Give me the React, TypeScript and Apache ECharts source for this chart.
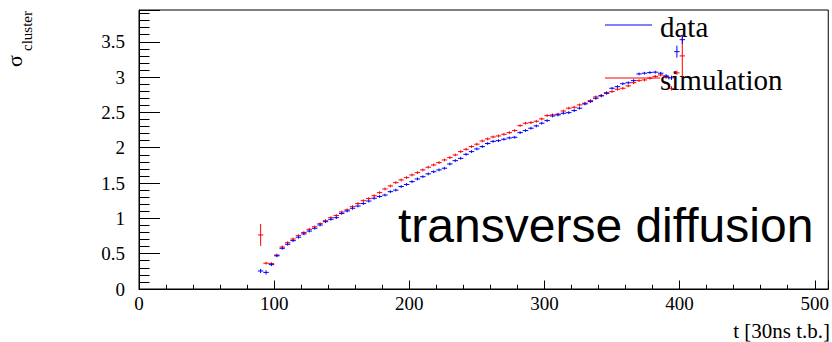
import React, { useEffect, useRef } from "react";
import * as echarts from "echarts";

// time-bin centres [30ns t.b.]
const tBins = [
  90, 94, 98, 102, 106, 110, 114, 118, 122, 126, 130, 134, 138, 142, 146, 150,
  154, 158, 162, 166, 170, 174, 178, 182, 186, 190, 194, 198, 202, 206, 210, 214,
  218, 222, 226, 230, 234, 238, 242, 246, 250, 254, 258, 262, 266, 270, 274, 278,
  282, 286, 290, 294, 298, 302, 306, 310, 314, 318, 322, 326, 330, 334, 338, 342,
  346, 350, 354, 358, 362, 366, 370, 374, 378, 382, 386, 390, 394, 398, 402,
];

// "data" (blue)
const dataSigma = [
  0.255, 0.235, 0.345, 0.47, 0.576, 0.633, 0.685, 0.733, 0.78, 0.82, 0.86, 0.906, 0.953, 0.987, 1.01, 1.07,
  1.105, 1.143, 1.175, 1.21, 1.245, 1.285, 1.31, 1.33, 1.378, 1.4, 1.45, 1.48, 1.52, 1.558, 1.59, 1.63,
  1.66, 1.686, 1.71, 1.77, 1.817, 1.85, 1.907, 1.945, 1.983, 2.016, 2.06, 2.09, 2.1, 2.12, 2.139, 2.148,
  2.214, 2.243, 2.276, 2.309, 2.347, 2.384, 2.45, 2.465, 2.488, 2.497, 2.526, 2.56, 2.62, 2.653, 2.7, 2.734,
  2.77, 2.842, 2.865, 2.906, 2.92, 2.95, 3.045, 3.055, 3.064, 3.07, 3.055, 3.017, 2.99, 3.36, 3.53,
];
const dataErr = [
  0.03, 0.03, 0.02, 0.02, 0.02, 0.02, 0.02, 0.02, 0.02, 0.02, 0.02, 0.02, 0.02, 0.02, 0.02, 0.02,
  0.02, 0.02, 0.02, 0.02, 0.02, 0.02, 0.02, 0.02, 0.02, 0.02, 0.02, 0.02, 0.02, 0.02, 0.02, 0.02,
  0.02, 0.02, 0.02, 0.02, 0.02, 0.02, 0.02, 0.02, 0.02, 0.02, 0.02, 0.02, 0.02, 0.02, 0.02, 0.02,
  0.02, 0.02, 0.02, 0.02, 0.02, 0.02, 0.02, 0.02, 0.02, 0.02, 0.02, 0.02, 0.02, 0.02, 0.02, 0.02,
  0.02, 0.02, 0.02, 0.02, 0.02, 0.02, 0.02, 0.02, 0.02, 0.02, 0.02, 0.025, 0.03, 0.085, 0.06,
];

// "simulation" (red)
const simSigma = [
  0.765, 0.365, 0.36, 0.48, 0.595, 0.656, 0.708, 0.755, 0.8, 0.845, 0.88, 0.925, 0.967, 1.01, 1.04, 1.09,
  1.12, 1.166, 1.21, 1.25, 1.28, 1.32, 1.364, 1.416, 1.459, 1.506, 1.544, 1.577, 1.615, 1.648, 1.686, 1.724,
  1.756, 1.789, 1.827, 1.86, 1.898, 1.945, 1.978, 2.016, 2.05, 2.096, 2.125, 2.153, 2.167, 2.19, 2.214, 2.243,
  2.313, 2.347, 2.356, 2.375, 2.408, 2.455, 2.465, 2.475, 2.52, 2.56, 2.573, 2.606, 2.63, 2.667, 2.72, 2.74,
  2.78, 2.795, 2.828, 2.842, 2.875, 2.92, 2.95, 2.96, 2.985, 3.01, 3.03, 3.0, 2.84, 3.06, 3.3,
];
const simErr = [
  0.155, 0.02, 0.02, 0.02, 0.02, 0.02, 0.02, 0.02, 0.02, 0.02, 0.02, 0.02, 0.02, 0.02, 0.02, 0.02,
  0.02, 0.02, 0.02, 0.02, 0.02, 0.02, 0.02, 0.02, 0.02, 0.02, 0.02, 0.02, 0.02, 0.02, 0.02, 0.02,
  0.02, 0.02, 0.02, 0.02, 0.02, 0.02, 0.02, 0.02, 0.02, 0.02, 0.02, 0.02, 0.02, 0.02, 0.02, 0.02,
  0.02, 0.02, 0.02, 0.02, 0.02, 0.02, 0.02, 0.02, 0.02, 0.02, 0.02, 0.02, 0.02, 0.02, 0.02, 0.02,
  0.02, 0.02, 0.02, 0.02, 0.02, 0.02, 0.02, 0.02, 0.02, 0.02, 0.02, 0.025, 0.03, 0.03, 0.3,
];

const BIN_HALF = 2;
const SERIF = "'Liberation Serif', 'Times New Roman', serif";
const SANS = "'Liberation Sans', Arial, sans-serif";

const makeRender = (color: string) => (params: any, api: any) => {
  const t = api.value(0);
  const v = api.value(1);
  const e = api.value(2);
  const l = api.coord([t - BIN_HALF, v]);
  const r = api.coord([t + BIN_HALF, v]);
  const top = api.coord([t, v + e]);
  const bot = api.coord([t, v - e]);
  return {
    type: "group",
    children: [
      { type: "line", shape: { x1: l[0], y1: l[1], x2: r[0], y2: r[1] }, style: { stroke: color, lineWidth: 1 } },
      { type: "line", shape: { x1: top[0], y1: top[1], x2: bot[0], y2: bot[1] }, style: { stroke: color, lineWidth: 1 } },
    ],
  };
};

export default function App() {
  const ref = useRef<HTMLDivElement>(null);
  useEffect(() => {
    document.body.style.margin = "0";
    if (!ref.current) return;
    const chart = echarts.init(ref.current, undefined, { renderer: "svg" });
    const simData = tBins.map((t, i) => [t, simSigma[i], simErr[i]]);
    const dataData = tBins.map((t, i) => [t, dataSigma[i], dataErr[i]]);
    chart.setOption({
      animation: false,
      backgroundColor: "#fff",
      grid: { left: 139, right: 2, top: 10, bottom: 53, show: true, borderColor: "#000", borderWidth: 1, backgroundColor: "transparent" },
      xAxis: {
        type: "value",
        min: 0,
        max: 510,
        interval: 100,
        axisLine: { show: true, lineStyle: { color: "#000", width: 1 } },
        axisTick: { show: true, inside: true, length: 8.5, lineStyle: { color: "#000" } },
        minorTick: { show: true, splitNumber: 5, length: 4.2, lineStyle: { color: "#000" } },
        splitLine: { show: false },
        axisLabel: { showMaxLabel: false, color: "#000", fontFamily: SERIF, fontSize: 19, margin: 5 },
      },
      yAxis: {
        type: "value",
        min: 0,
        max: 3.95,
        interval: 0.5,
        axisLine: { show: true, lineStyle: { color: "#000", width: 1 } },
        axisTick: { show: true, inside: true, length: 21, lineStyle: { color: "#000" } },
        minorTick: { show: true, splitNumber: 5, length: 10.5, lineStyle: { color: "#000" } },
        splitLine: { show: false },
        axisLabel: { showMaxLabel: false, color: "#000", fontFamily: SERIF, fontSize: 19, margin: 14 },
      },
      series: [
        { type: "custom", name: "simulation", data: simData, renderItem: makeRender("#ff0000"), clip: true },
        { type: "custom", name: "data", data: dataData, renderItem: makeRender("#0000ff"), clip: true },
      ],
      graphic: [
        { type: "line", shape: { x1: 605, y1: 25, x2: 652, y2: 25 }, style: { stroke: "#0000ff", lineWidth: 1 } },
        { type: "line", shape: { x1: 605, y1: 78, x2: 660, y2: 78 }, style: { stroke: "#ff0000", lineWidth: 1 } },
        { type: "text", x: 660, y: 27, style: { text: "data", fontFamily: SERIF, fontSize: 29, fill: "#000", align: "left", verticalAlign: "middle" } },
        { type: "text", x: 660, y: 80, style: { text: "simulation", fontFamily: SERIF, fontSize: 29, fill: "#000", align: "left", verticalAlign: "middle" } },
        { type: "text", x: 398, y: 225, style: { text: "transverse diffusion", fontFamily: SANS, fontSize: 48, fill: "#000", align: "left", verticalAlign: "middle" } },
        { type: "text", x: 830, y: 331, style: { text: "t [30ns t.b.]", fontFamily: SERIF, fontSize: 21, fill: "#000", align: "right", verticalAlign: "middle" } },
        { type: "text", x: 14, y: 67, rotation: Math.PI / 2, style: { text: "σ", fontFamily: SERIF, fontSize: 22, fill: "#000", align: "left", verticalAlign: "middle" } },
        { type: "text", x: 27, y: 51, rotation: Math.PI / 2, style: { text: "cluster", fontFamily: SERIF, fontSize: 15, fill: "#000", align: "left", verticalAlign: "middle" } },
      ],
    });
    return () => chart.dispose();
  }, []);
  return <div ref={ref} style={{ position: "fixed", left: 0, top: 0, width: 832, height: 342 }} />;
}
